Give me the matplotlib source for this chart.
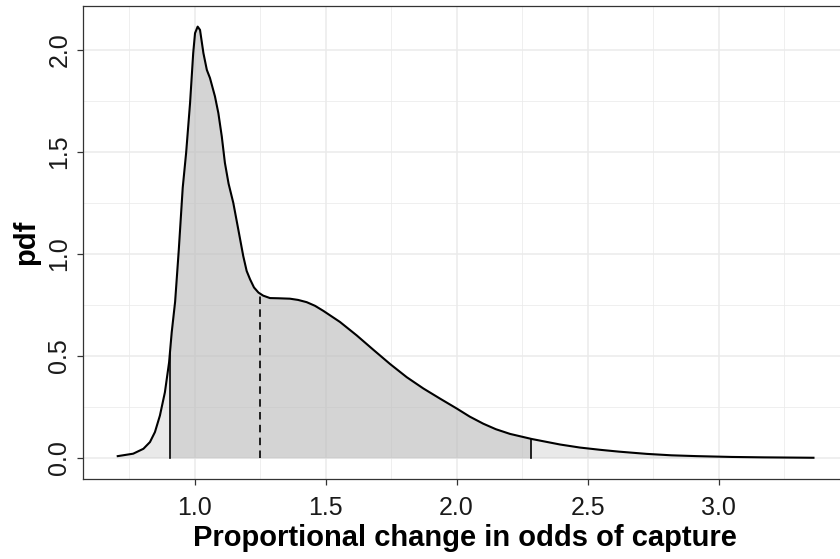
import numpy as np
import matplotlib.pyplot as plt
from matplotlib.ticker import MultipleLocator

plt.rcParams['font.family'] = ['Liberation Sans', 'DejaVu Sans']

# density of the proportional change
ratio = [0.707, 0.766, 0.805, 0.830, 0.849, 0.868, 0.887, 0.903, 0.913, 0.926, 0.94,
         0.955, 0.968, 0.983, 0.995, 1.002, 1.012, 1.021, 1.034, 1.047, 1.059, 1.078,
         1.091, 1.104, 1.116, 1.130, 1.148, 1.167, 1.186, 1.199, 1.212, 1.227, 1.244,
         1.262, 1.288, 1.32, 1.364, 1.395, 1.428, 1.46, 1.492, 1.555, 1.619, 1.682,
         1.746, 1.810, 1.873, 1.937, 2.0, 2.05, 2.102, 2.15, 2.204, 2.287, 2.395, 2.471,
         2.548, 2.62, 2.726, 2.82, 2.917, 3.05, 3.171, 3.27, 3.362]
pdf = [0.008, 0.020, 0.044, 0.077, 0.126, 0.207, 0.321, 0.468, 0.615, 0.765, 1.02,
       1.324, 1.495, 1.739, 1.984, 2.082, 2.114, 2.098, 1.984, 1.902, 1.862, 1.772,
       1.690, 1.576, 1.446, 1.344, 1.250, 1.120, 0.989, 0.916, 0.875, 0.835, 0.810,
       0.795, 0.783, 0.782, 0.780, 0.774, 0.763, 0.745, 0.720, 0.666, 0.600, 0.530,
       0.460, 0.395, 0.340, 0.290, 0.242, 0.202, 0.167, 0.140, 0.117, 0.092, 0.065, 0.050,
       0.039, 0.030, 0.019, 0.012, 0.008, 0.004, 0.002, 0.001, 0.0]

# 95% interval and median
lower = 0.906
median = 1.25
upper = 2.284

x = np.array(ratio)
y = np.array(pdf)

fig = plt.figure(figsize=(8.4, 5.59), dpi=100)
ax = fig.add_axes([83.3 / 840, (559 - 479.3) / 559, (847 - 83.3) / 840, (479.3 - 5.5) / 559])

# light fill under whole curve, darker fill inside the interval
ax.fill_between(x, 0, y, color='#c0c0c0', alpha=0.35, lw=0, zorder=1)
inside = (x > lower) & (x < upper)
xm = np.concatenate([[lower], x[inside], [upper]])
ym = np.interp(xm, x, y)
ax.fill_between(xm, 0, ym, color='#c0c0c0', alpha=0.5, lw=0, zorder=1)

ax.plot(x, y, color='black', lw=1.5, zorder=3, solid_joinstyle='round')
for v, ls in [(lower, '-'), (median, (0, (4.5, 3.2))), (upper, '-')]:
    ax.plot([v, v], [0, np.interp(v, x, y)], color='black', lw=1.2, ls=ls, zorder=2)

ax.set_xlim(0.5756, 3.49)
ax.set_ylim(-0.1056, 2.2176)
ax.xaxis.set_major_locator(MultipleLocator(0.5))
ax.xaxis.set_minor_locator(MultipleLocator(0.25))
ax.yaxis.set_major_locator(MultipleLocator(0.5))
ax.yaxis.set_minor_locator(MultipleLocator(0.25))

ax.grid(which='major', color='#ebebeb', lw=1.1, zorder=0)
ax.grid(which='minor', color='#ebebeb', lw=0.55, zorder=0)
ax.set_axisbelow(True)
for s in ax.spines.values():
    s.set_color('#333333')
    s.set_linewidth(0.9)

ax.tick_params(which='major', length=4.5, width=0.9, color='#333333', labelsize=18,
               labelcolor='#1a1a1a')
ax.tick_params(which='minor', length=0)
ax.tick_params(axis='x', pad=7.5)
ax.tick_params(axis='y', pad=4)
for lab in ax.get_yticklabels():
    lab.set_rotation(90)
    lab.set_va('center')

ax.set_xlabel('Proportional change in odds of capture', fontsize=21, fontweight='bold',
              labelpad=3)
ax.set_ylabel('pdf', fontsize=21, fontweight='bold', labelpad=5)

fig.savefig('out.png', dpi=100)
